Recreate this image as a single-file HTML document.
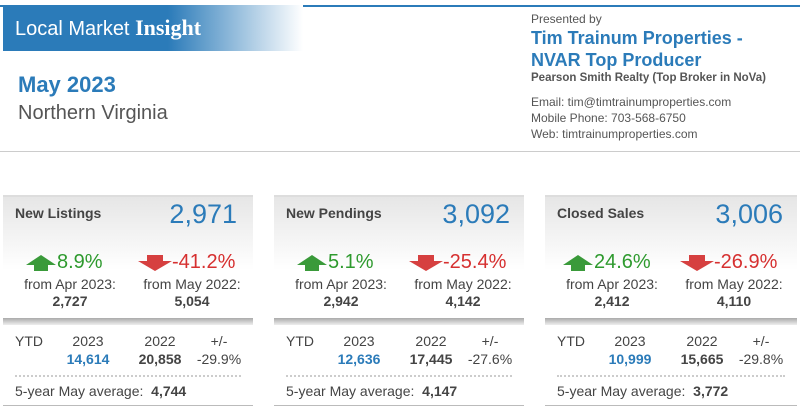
<!DOCTYPE html>
<html><head><meta charset="utf-8"><style>
*{margin:0;padding:0;box-sizing:border-box}
body{width:800px;height:410px;background:#fff;font-family:"Liberation Sans",sans-serif;position:relative;overflow:hidden;color:#444}
.a{position:absolute;white-space:nowrap}
.card{position:absolute;top:195px;height:211px}
.top{position:absolute;left:0;right:0;top:0;height:124px;background:linear-gradient(#e6e6e6,#fff 60%);border-top:2px solid #ddd}
.shadow{position:absolute;left:0;right:0;top:123px;height:7px;background:linear-gradient(#aaa,#eee)}
.bot{position:absolute;left:0;right:0;bottom:0;height:1px;background:#bbb}
.dots{position:absolute;left:12px;right:12px;top:180px;border-top:2px dotted #ccc}
.pct{font-size:20px;top:56px}
.fr{font-size:14px;top:81px;width:110px;text-align:center;line-height:17px}
.y{top:137px;font-size:14px;line-height:18px;text-align:center}
</style></head><body>
<div class="a" style="left:0;right:0;top:5px;height:2px;background:#2b7bb9"></div>
<div class="a" style="left:3px;top:5px;width:300px;height:46px;background:linear-gradient(90deg,#2b7bb9 0%,#2b7bb9 55%,#fff 100%)"></div>
<div class="a" style="left:15px;top:15px;font-size:20px;color:#fff">Local Market <b style="font-family:'Liberation Serif',serif;font-size:22px">Insight</b></div>
<div class="a" style="left:18px;top:72px;font-size:22px;font-weight:bold;color:#2b7bb9">May 2023</div>
<div class="a" style="left:18px;top:102px;font-size:20px;color:#555">Northern Virginia</div>
<div class="a" style="left:531px;top:12px;font-size:12px;color:#555">Presented by</div>
<div class="a" style="left:531px;top:27px;font-size:18px;font-weight:bold;color:#2b7bb9;line-height:22px">Tim Trainum Properties -<br>NVAR Top Producer</div>
<div class="a" style="left:531px;top:72px;font-size:11.5px;font-weight:bold;color:#555">Pearson Smith Realty (Top Broker in NoVa)</div>
<div class="a" style="left:531px;top:94px;font-size:12px;color:#555;line-height:16px">Email: tim@timtrainumproperties.com<br>Mobile Phone: 703-568-6750<br>Web: timtrainumproperties.com</div>
<div class="a" style="left:0;right:0;top:151px;height:1px;background:#ccc"></div>

<div class="card" style="left:3px;width:250px">
<div class="top"></div><div class="shadow"></div><div class="bot"></div><div class="dots"></div>
<div class="a" style="left:12px;top:10px;font-size:14px;font-weight:bold">New Listings</div>
<div class="a" style="right:16px;top:4px;font-size:27px;color:#2b7bb9">2,971</div>
<svg class="a" style="left:23px;top:60px" width="31" height="17"><polygon points="0,10 15,0 30,10 22,10 22,16 8,16 8,10" fill="#3a9a3a"/></svg>
<div class="a pct" style="left:54px;color:#2e9a2e">8.9%</div>
<svg class="a" style="left:135px;top:60px" width="34" height="17"><polygon points="9,0 25,0 25,6 34,6 17,16 0,6 9,6" fill="#d64040"/></svg>
<div class="a pct" style="left:169px;color:#d63030">-41.2%</div>
<div class="a fr" style="left:12px">from Apr 2023:<br><b>2,727</b></div>
<div class="a fr" style="left:134px">from May 2022:<br><b>5,054</b></div>
<div class="a y" style="left:12px">YTD</div>
<div class="a y" style="left:55px;width:60px">2023<br><b style="color:#2b7bb9">14,614</b></div>
<div class="a y" style="left:127px;width:60px">2022<br><b>20,858</b></div>
<div class="a y" style="left:188px;width:56px">+/-<br>-29.9%</div>
<div class="a" style="left:12px;top:188px;font-size:14px">5-year May average:&nbsp; <b>4,744</b></div>
</div>

<div class="card" style="left:274px;width:250px">
<div class="top"></div><div class="shadow"></div><div class="bot"></div><div class="dots"></div>
<div class="a" style="left:12px;top:10px;font-size:14px;font-weight:bold">New Pendings</div>
<div class="a" style="right:14px;top:4px;font-size:27px;color:#2b7bb9">3,092</div>
<svg class="a" style="left:23px;top:60px" width="31" height="17"><polygon points="0,10 15,0 30,10 22,10 22,16 8,16 8,10" fill="#3a9a3a"/></svg>
<div class="a pct" style="left:54px;color:#2e9a2e">5.1%</div>
<svg class="a" style="left:135px;top:60px" width="34" height="17"><polygon points="9,0 25,0 25,6 34,6 17,16 0,6 9,6" fill="#d64040"/></svg>
<div class="a pct" style="left:169px;color:#d63030">-25.4%</div>
<div class="a fr" style="left:12px">from Apr 2023:<br><b>2,942</b></div>
<div class="a fr" style="left:134px">from May 2022:<br><b>4,142</b></div>
<div class="a y" style="left:12px">YTD</div>
<div class="a y" style="left:55px;width:60px">2023<br><b style="color:#2b7bb9">12,636</b></div>
<div class="a y" style="left:127px;width:60px">2022<br><b>17,445</b></div>
<div class="a y" style="left:188px;width:56px">+/-<br>-27.6%</div>
<div class="a" style="left:12px;top:188px;font-size:14px">5-year May average:&nbsp; <b>4,147</b></div>
</div>

<div class="card" style="left:545px;width:252px">
<div class="top"></div><div class="shadow"></div><div class="bot"></div><div class="dots"></div>
<div class="a" style="left:12px;top:10px;font-size:14px;font-weight:bold">Closed Sales</div>
<div class="a" style="right:14px;top:4px;font-size:27px;color:#2b7bb9">3,006</div>
<svg class="a" style="left:18px;top:60px" width="31" height="17"><polygon points="0,10 15,0 30,10 22,10 22,16 8,16 8,10" fill="#3a9a3a"/></svg>
<div class="a pct" style="left:49px;color:#2e9a2e">24.6%</div>
<svg class="a" style="left:135px;top:60px" width="34" height="17"><polygon points="9,0 25,0 25,6 34,6 17,16 0,6 9,6" fill="#d64040"/></svg>
<div class="a pct" style="left:169px;color:#d63030">-26.9%</div>
<div class="a fr" style="left:12px">from Apr 2023:<br><b>2,412</b></div>
<div class="a fr" style="left:134px">from May 2022:<br><b>4,110</b></div>
<div class="a y" style="left:12px">YTD</div>
<div class="a y" style="left:55px;width:60px">2023<br><b style="color:#2b7bb9">10,999</b></div>
<div class="a y" style="left:127px;width:60px">2022<br><b>15,665</b></div>
<div class="a y" style="left:188px;width:56px">+/-<br>-29.8%</div>
<div class="a" style="left:12px;top:188px;font-size:14px">5-year May average:&nbsp; <b>3,772</b></div>
</div>
</body></html>
